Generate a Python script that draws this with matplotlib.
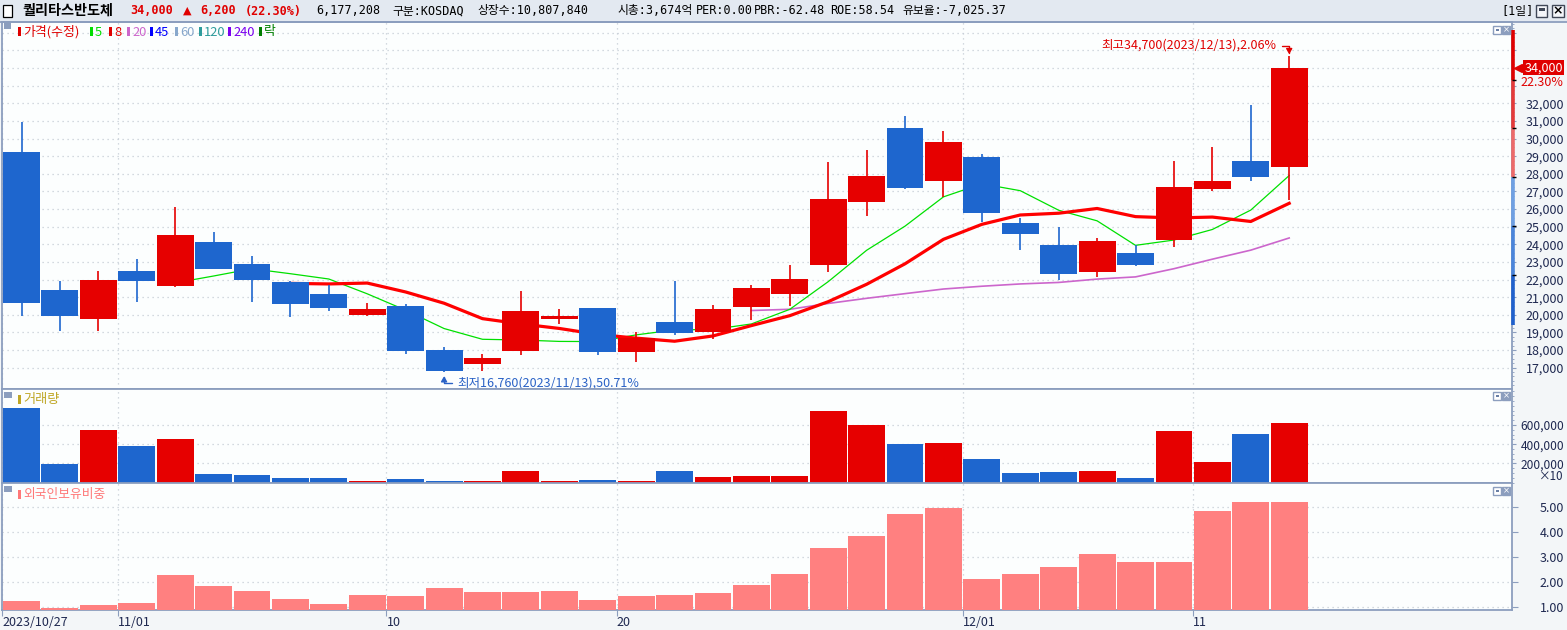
import numpy as np
import pandas as pd
import matplotlib

matplotlib.use("Agg")
import matplotlib.pyplot as plt
import matplotlib.transforms as mtransforms
from matplotlib.patches import Rectangle
from matplotlib.ticker import FuncFormatter, MultipleLocator

plt.rcParams["font.family"] = ["Noto Sans CJK KR", "DejaVu Sans"]

# ---- values ----
dates = [
    "2023/10/27", "2023/10/30", "2023/10/31", "2023/11/01", "2023/11/02", "2023/11/03",
    "2023/11/06", "2023/11/07", "2023/11/08", "2023/11/09", "2023/11/10",
    "2023/11/13", "2023/11/14", "2023/11/15", "2023/11/16", "2023/11/17",
    "2023/11/20", "2023/11/21", "2023/11/22", "2023/11/23", "2023/11/24",
    "2023/11/27", "2023/11/28", "2023/11/29", "2023/11/30", "2023/12/01",
    "2023/12/04", "2023/12/05", "2023/12/06", "2023/12/07", "2023/12/08",
    "2023/12/11", "2023/12/12", "2023/12/13",
]
open_ = [29250, 21400, 19750, 22500, 21650, 24150, 22900, 21850, 21200, 20000, 20500,
         18000, 17200, 17950, 19750, 20400, 17900, 19600, 19050, 20450, 21200,
         22850, 26400, 30600, 27600, 28950, 25200, 23950, 22450, 23500, 24250,
         27150, 28700, 28400]
high = [30950, 21900, 22500, 23150, 26100, 24700, 23350, 21900, 21700, 20650, 20600,
        18150, 17800, 21350, 20350, 20400, 19000, 21900, 20550, 21700, 22850,
        28650, 29350, 31300, 30450, 29100, 25500, 25000, 24350, 23950, 28700,
        29500, 31900, 34700]
low = [19950, 19100, 19100, 20750, 21550, 22600, 20700, 19850, 20200, 19950, 17800,
       16760, 16800, 17700, 19450, 17700, 17300, 18850, 18650, 19700, 20500,
       22450, 25600, 27150, 26700, 25250, 23700, 22000, 22150, 22750, 23850,
       27000, 27600, 26500]
close = [20650, 19950, 22000, 21900, 24550, 22600, 22000, 20600, 20400, 20350, 17950,
         16800, 17550, 20200, 19950, 17900, 18700, 18950, 20350, 21500, 22050,
         26550, 27850, 27200, 29800, 25750, 24600, 22300, 24200, 22850, 27250,
         27600, 27800, 34000]
# volume as shown on the axis (units of 10 shares)
volume_x10 = [780000, 197600, 551000, 384800, 457500, 93600, 83200, 52000, 52000, 17700,
              38500, 17700, 17700, 121700, 17700, 28000, 17700, 121700, 59300, 69700,
              69700, 748700, 600000, 402400, 412800, 246400, 100900, 111300, 121700,
              48900, 537600, 215200, 506400, 617721]
foreign_ratio = [1.23, 0.96, 1.07, 1.15, 2.27, 1.83, 1.63, 1.31, 1.11, 1.47, 1.43,
                 1.75, 1.59, 1.59, 1.63, 1.27, 1.43, 1.47, 1.55, 1.87, 2.31,
                 3.35, 3.83, 4.71, 4.95, 2.11, 2.31, 2.59, 3.11, 2.79, 2.79,
                 4.83, 5.19, 5.19]
ma_windows = [20, 5, 8]
xtick_idx = [0, 3, 10, 16, 25, 31]
xtick_labels = ["2023/10/27", "11/01", "10", "20", "12/01", "11"]
price_ticks = list(range(17000, 37000, 1000))
price_labelled = (17000, 32000)
vol_ticks = [200000, 400000, 600000]
foreign_ticks = [1, 2, 3, 4, 5]
band_edges = [36150, 33320, 30600, 27820, 25040, 22260, 19420]
band_colors = ["#E00000", "#E43A3A", "#EC6A6A", "#6E9FE2", "#4A84DA", "#1F60CC"]

legend_items = [("가격(수정)", "#E00000"), ("5", "#00DD00"), ("8", "#E00000"),
                ("20", "#CC66CC"), ("45", "#0000FF"), ("60", "#88A8CC"),
                ("120", "#2E9C9C"), ("240", "#7A00F0"), ("락", "#008000")]

# ---- styling ----
W, H = 1567, 630
UP, DOWN = "#E60000", "#1E66CE"
GRID = "#C6CDD6"
FRAME = "#8C9EBE"
LABEL = "#1E2850"
MA_STYLE = {5: ("#00E000", 0.9), 8: ("#FF0000", 2.3), 20: ("#CC66CC", 1.2)}


def fig_box(x0, y0, x1, y1):
    """pixel box, origin top-left -> [left, bottom, width, height] in figure fraction"""
    return [x0 / W, 1 - y1 / H, (x1 - x0) / W, (y1 - y0) / H]


def px_rect(x0, y0, x1, y1, **kw):
    fig.patches.append(Rectangle((x0 / W, 1 - y1 / H), (x1 - x0) / W, (y1 - y0) / H,
                                 transform=fig.transFigure, **kw))


def px_text(x, y, s, **kw):
    fig.text(x / W, 1 - y / H, s, va="center", **kw)


def legend_item(x, y, s, color, size=9.3):
    px_rect(x, y - 5, x + 3, y + 4, facecolor=color, edgecolor="none")
    px_text(x + 5, y, s, color=color, fontsize=size)


def corner_icons(y):
    px_rect(1493, y, 1501, y + 8, facecolor="white", edgecolor=FRAME, lw=1)
    px_rect(1495.5, y + 3, 1498.5, y + 5, facecolor="#6A7FA5", edgecolor="none")
    px_rect(1502, y, 1510, y + 8, facecolor=FRAME, edgecolor=FRAME, lw=1)
    px_text(1506, y + 4, "×", color="white", fontsize=6, ha="center",
            family=["DejaVu Sans"])


fig = plt.figure(figsize=(W / 100, H / 100), dpi=100, facecolor="#F3F6F8")
ax_p = fig.add_axes(fig_box(2, 22, 1512, 389))
ax_v = fig.add_axes(fig_box(2, 389, 1512, 483), sharex=ax_p)
ax_f = fig.add_axes(fig_box(2, 483, 1512, 610), sharex=ax_p)

x = np.arange(len(dates))
o = np.array(open_)
c = np.array(close)
colors = [UP if cc >= oo else DOWN for oo, cc in zip(o, c)]

# moving averages (under the candles)
closes = pd.Series(close)
for n in ma_windows:
    col, lw = MA_STYLE[n]
    ax_p.plot(x, closes.rolling(n).mean(), color=col, lw=lw, zorder=2)

ax_p.vlines(x, low, high, colors=colors, lw=1.2, zorder=3)
ax_p.bar(x, c - o, bottom=o, width=0.96, color=colors, lw=0, zorder=4)

ax_v.bar(x, volume_x10, width=0.96, color=colors, lw=0, zorder=3)

f_bottom = 0.87
ax_f.bar(x, np.array(foreign_ratio) - f_bottom, bottom=f_bottom, width=0.96,
         color="#FF8080", lw=0, zorder=3)

# limits
ax_p.set_xlim(-0.508, 38.8)
ax_p.set_ylim(15790, 36610)
ax_v.set_ylim(-3000, 975000)
ax_f.set_ylim(f_bottom, 5.95)

# axes frame + grid
for ax in (ax_p, ax_v, ax_f):
    ax.set_facecolor("#FCFEFE")
    ax.set_axisbelow(True)
    ax.grid(True, color=GRID, ls=(0, (1, 3)), lw=0.9)
    for s in ax.spines.values():
        s.set_color(FRAME)
        s.set_linewidth(1.3)

# x ticks: at the left edge of the first session of each period
ax_f.set_xticks([i - 0.5 for i in xtick_idx])
ax_f.set_xticklabels(xtick_labels)
for ax in (ax_p, ax_v):
    ax.tick_params(axis="x", length=0, labelbottom=False)
ax_f.tick_params(axis="x", length=4, color=FRAME, labelsize=9, labelcolor=LABEL, pad=0.5)
plt.setp(ax_f.get_xticklabels(), ha="left")

# right-hand y axes
ax_p.set_yticks(price_ticks)
ax_p.yaxis.set_major_formatter(FuncFormatter(
    lambda v, _: f"{v:,.0f}" if price_labelled[0] <= v <= price_labelled[1] else ""))
ax_p.yaxis.set_minor_locator(MultipleLocator(250))
ax_v.set_yticks(vol_ticks)
ax_v.yaxis.set_major_formatter(FuncFormatter(lambda v, _: f"{v:,.0f}"))
ax_v.yaxis.set_minor_locator(MultipleLocator(50000))
ax_f.set_yticks(foreign_ticks)
ax_f.yaxis.set_major_formatter(FuncFormatter(lambda v, _: f"{v:.2f}"))

for ax, tlen, lsize in ((ax_p, 3, 9), (ax_v, 3, 8.6), (ax_f, 4, 9)):
    ax.tick_params(axis="y", which="major", left=False, right=True, labelleft=False,
                   labelright=True, length=tlen, color=FRAME, labelsize=lsize,
                   labelcolor=LABEL, pad=37.4 - tlen)
    ax.tick_params(axis="y", which="minor", left=False, right=True, length=1.5, color=FRAME)
    plt.setp(ax.get_yticklabels(), ha="right")

# price band on the right edge of the price panel
fig_x_price = mtransforms.blended_transform_factory(fig.transFigure, ax_p.transData)
for top, bot, col in zip(band_edges[:-1], band_edges[1:], band_colors):
    ax_p.plot([1512.8 / W] * 2, [bot, top], transform=fig_x_price, color=col,
              lw=2.6, solid_capstyle="butt", clip_on=False, zorder=6)
ax_p.hlines(band_edges[1:-1], 1511.5 / W, 1515.5 / W, transform=fig_x_price,
            color="black", lw=1, clip_on=False, zorder=7)

# current price tag
last = close[-1]
prev = close[-2]
pct = (last - prev) / prev * 100
ax_p.plot([1518 / W], [last], transform=fig_x_price, marker="<", ms=6,
          color="#E00000", clip_on=False, zorder=7)
ax_p.text(1563 / W, last, f"{last:,}", transform=fig_x_price, ha="right", va="center",
          color="white", fontsize=9, zorder=8,
          bbox=dict(boxstyle="square,pad=0.1", facecolor="#E00000", edgecolor="none"))
ax_p.annotate(f"{pct:.2f}%", xy=(1563 / W, last), xycoords=fig_x_price,
              xytext=(0, -10.5), textcoords="offset points", ha="right", va="center",
              color="#E00000", fontsize=9, zorder=8,
              bbox=dict(boxstyle="square,pad=0.05", facecolor="#F3F6F8", edgecolor="none"))

# high / low notes
i_hi = int(np.argmax(high))
i_lo = int(np.argmin(low))
pct_hi = (high[i_hi] - last) / last * 100
pct_lo = (last - low[i_lo]) / last * 100
ax_p.annotate(f"최고{high[i_hi]:,}({dates[i_hi]}),{pct_hi:.2f}%", xy=(i_hi, high[i_hi]),
              xytext=(-9.5, 7.3), textcoords="offset points", ha="right", va="center",
              color="#E00000", fontsize=9, zorder=8,
              arrowprops=dict(arrowstyle="-|>,head_length=0.35,head_width=0.2",
                              color="#E00000", lw=1, shrinkB=1,
                              connectionstyle="angle,angleA=0,angleB=90,rad=0"))
ax_p.annotate(f"최저{low[i_lo]:,}({dates[i_lo]}),{pct_lo:.2f}%", xy=(i_lo, low[i_lo]),
              xytext=(9.5, -7.8), textcoords="offset points", ha="left", va="center",
              color="#2A62C6", fontsize=9, zorder=8,
              arrowprops=dict(arrowstyle="-|>,head_length=0.35,head_width=0.2",
                              color="#2A62C6", lw=1, shrinkB=3,
                              connectionstyle="angle,angleA=0,angleB=90,rad=0"))

# ---- header bar ----
px_rect(0, 0, W, 21, facecolor="#E3E9F1", edgecolor="none")
fig.add_artist(plt.Line2D([0, 1], [1 - 21.5 / H] * 2, color=FRAME, lw=1.3))
px_rect(3, 5, 12, 17, facecolor="white", edgecolor="black", lw=0.9)
hdr = dict(fontsize=8.5, family=["DejaVu Sans Mono", "Noto Sans CJK KR"])
px_text(22, 11, "퀄리타스반도체", color="black", fontsize=10.2, fontweight="bold")
px_text(130, 11, f"{last:,}", color="#E00000", fontweight="bold", **hdr)
px_text(183, 11, "▲", color="#E00000", fontsize=8, family=["DejaVu Sans"])
px_text(200, 11, f"{last - prev:,}", color="#E00000", fontweight="bold", **hdr)
px_text(245, 11, f"({pct:.2f}%)", color="#E00000", fontweight="bold", **hdr)
header_items = [(316, "6,177,208"), (392, "구분:KOSDAQ"), (477, "상장수:10,807,840"),
                (617, "시총:3,674억"), (696, "PER:0.00"), (754, "PBR:-62.48"),
                (830, "ROE:58.54"), (902, "유보율:-7,025.37")]
for hx, s in header_items:
    px_text(hx, 11, s, color="black", **hdr)
px_text(1501, 11, "[1일]", color="black", **hdr)
px_rect(1536, 5, 1547, 17, facecolor="#F4F6FA", edgecolor="#404858", lw=1)
px_rect(1538.5, 8, 1544.5, 11, facecolor="#404858", edgecolor="none")
px_rect(1552, 5, 1564, 17, facecolor="#F4F6FA", edgecolor="#404858", lw=1)
px_text(1558, 11, "×", color="black", fontsize=9, ha="center", fontweight="bold",
        family=["DejaVu Sans"])

# ---- panel legends and corner icons ----
lx = 18
widths = {"가격(수정)": 72, "5": 19, "8": 18, "20": 23, "45": 25, "60": 24,
          "120": 29, "240": 31, "락": 20}
px_rect(4, 23, 11, 29, facecolor=FRAME, edgecolor="none")
for s, col in legend_items:
    legend_item(lx, 32, s, col)
    lx += widths[s]

px_rect(4, 392, 12, 398, facecolor=FRAME, edgecolor="none")
legend_item(18, 400, "거래량", "#BFA726", size=9.5)
px_rect(4, 486, 12, 492, facecolor=FRAME, edgecolor="none")
legend_item(18, 494.5, "외국인보유비중", "#FF7878", size=9.2)

for y in (26, 392, 487):
    corner_icons(y)

px_text(1563, 476, "×10", color=LABEL, fontsize=8.4, ha="right")

fig.savefig("out.png", dpi=100, facecolor=fig.get_facecolor())
